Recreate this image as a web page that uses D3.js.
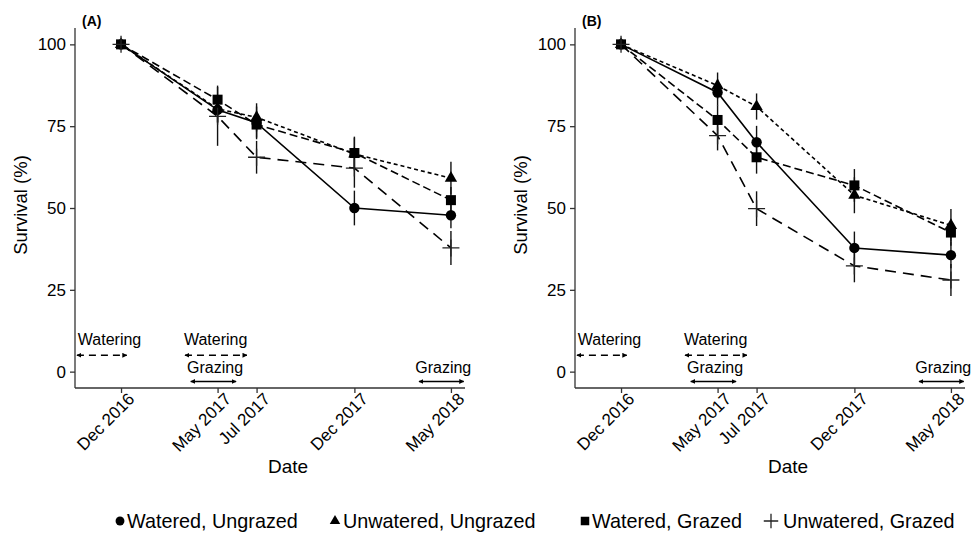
<!DOCTYPE html>
<html>
<head>
<meta charset="utf-8">
<script src="https://cdn.jsdelivr.net/npm/d3@7"></script>
<style>
  html, body { margin: 0; padding: 0; background: #fff; }
  svg { display: block; font-family: "Liberation Sans", Arial, Helvetica, sans-serif; }
</style>
</head>
<body>
<svg id="chart" width="972" height="533"></svg>
<script>
// ---------------- DATA ----------------
const dates = ["2016-12-01", "2017-05-01", "2017-07-01", "2017-12-01", "2018-05-01"];
const tickLabels = ["Dec 2016", "May 2017", "Jul 2017", "Dec 2017", "May 2018"];
const seriesNames = ["Watered, Ungrazed", "Unwatered, Ungrazed", "Watered, Grazed", "Unwatered, Grazed"];
const yTicks = [0, 25, 50, 75, 100];

// Panel A values (survival %) and standard errors
const a_wateredUngrazed   = [100, 80.0, 76.0, 50.0, 47.8];
const a_unwateredUngrazed = [100, 80.3, 77.7, 66.5, 59.1];
const a_wateredGrazed     = [100, 83.1, 75.5, 66.8, 52.4];
const a_unwateredGrazed   = [100, 78.0, 65.5, 62.2, 37.8];
const a_se_wu = [1, 4, 5, 5.3, 4];
const a_se_uu = [1, 4, 4.3, 5, 5];
const a_se_wg = [1, 4.3, 4, 5, 4];
const a_se_ug = [1.5, 9, 5, 6, 5.2];

// Panel B values (survival %) and standard errors
const b_wateredUngrazed   = [100, 85.3, 70.1, 37.8, 35.6];
const b_unwateredUngrazed = [100, 87.4, 81.0, 53.9, 44.7];
const b_wateredGrazed     = [100, 76.9, 65.5, 56.9, 42.5];
const b_unwateredGrazed   = [100, 72.1, 49.8, 32.3, 28.0];
const b_se_wu = [1, 4, 5, 5, 4];
const b_se_uu = [1, 4, 4, 5.5, 5];
const b_se_wg = [1, 4.5, 5, 5, 4];
const b_se_ug = [1.5, 4.5, 5.3, 5, 4.9];

// Treatment-period annotations
const annLabels = ["Watering", "Watering", "Grazing", "Grazing"];
const annStart  = ["2016-09-23", "2017-03-11", "2017-03-20", "2018-03-12"];
const annEnd    = ["2016-12-10", "2017-06-16", "2017-05-30", "2018-05-21"];
const annText   = ["2016-11-13", "2017-04-28", "2017-04-27", "2018-04-19"];
const annArrowY = [5, 5, -3, -3];
const annTextY  = [10, 10, 1.2, 1.2];
const annDashed = [true, true, false, false];

// ---------------- LAYOUT ----------------
const parse = d3.timeParse("%Y-%m-%d");
const svg = d3.select("#chart");
const panelOffsets = [0, 500];
const panelLabels = ["(A)", "(B)"];
const panelData = [
  { vals: [a_wateredUngrazed, a_unwateredUngrazed, a_wateredGrazed, a_unwateredGrazed],
    ses:  [a_se_wu, a_se_uu, a_se_wg, a_se_ug] },
  { vals: [b_wateredUngrazed, b_unwateredUngrazed, b_wateredGrazed, b_unwateredGrazed],
    ses:  [b_se_wu, b_se_uu, b_se_wg, b_se_ug] }
];
const dashes = [null, "4,3", "8,4", "11,7"];
const shapes = ["circle", "triangle", "square", "cross"];

// arrow markers
const defs = svg.append("defs");
defs.append("marker").attr("id", "arrowEnd").attr("viewBox", "0 0 10 10")
  .attr("refX", 9).attr("refY", 5).attr("markerWidth", 5).attr("markerHeight", 5)
  .attr("markerUnits", "userSpaceOnUse").attr("orient", "auto")
  .append("path").attr("d", "M0,0L10,5L0,10Z").attr("fill", "#000");
defs.append("marker").attr("id", "arrowStart").attr("viewBox", "0 0 10 10")
  .attr("refX", 1).attr("refY", 5).attr("markerWidth", 5).attr("markerHeight", 5)
  .attr("markerUnits", "userSpaceOnUse").attr("orient", "auto")
  .append("path").attr("d", "M10,0L0,5L10,10Z").attr("fill", "#000");

function drawShape(g, shape, x, y, scale) {
  scale = scale || 1;
  if (shape === "circle") {
    g.append("circle").attr("cx", x).attr("cy", y).attr("r", 5.2 * scale).attr("fill", "#000");
  } else if (shape === "triangle") {
    g.append("path").attr("transform", `translate(${x},${y})`)
      .attr("d", d3.symbol().type(d3.symbolTriangle).size(66 * scale * scale)()).attr("fill", "#000");
  } else if (shape === "square") {
    const s = 10 * scale;
    g.append("rect").attr("x", x - s / 2).attr("y", y - s / 2).attr("width", s).attr("height", s).attr("fill", "#000");
  } else {
    const h = 8.5 * scale;
    g.append("path").attr("d", `M${x - h},${y}H${x + h}M${x},${y - h}V${y + h}`)
      .attr("stroke", "#222").attr("stroke-width", 1.3).attr("fill", "none");
  }
}

panelOffsets.forEach((off, pi) => {
  const g = svg.append("g").attr("transform", `translate(${off},0)`);
  const x = d3.scaleTime().domain([parse("2016-09-20"), parse("2018-05-23")]).range([75, 465]);
  const y = d3.scaleLinear().domain([-5, 105]).range([388, 28]);

  // axes
  const yAxis = d3.axisLeft(y).tickValues(yTicks).tickSize(5).tickPadding(4);
  const ya = g.append("g").attr("transform", "translate(75,0)").call(yAxis);
  ya.select(".domain").attr("stroke", "#333").attr("stroke-width", 1.3).attr("d", "M0,28V388");
  ya.selectAll(".tick line").attr("stroke", "#333").attr("stroke-width", 1.3);
  ya.selectAll(".tick text").attr("font-size", 17).attr("fill", "#000")
    .attr("font-family", '"Liberation Sans", Arial, sans-serif');

  const xAxis = d3.axisBottom(x).tickValues(dates.map(parse))
    .tickFormat((d, i) => tickLabels[i]).tickSize(5).tickPadding(4);
  const xa = g.append("g").attr("transform", "translate(0,388)").call(xAxis);
  xa.select(".domain").attr("stroke", "#333").attr("stroke-width", 1.3).attr("d", "M75,0H465");
  xa.selectAll(".tick line").attr("stroke", "#333").attr("stroke-width", 1.3);
  xa.selectAll(".tick text").attr("font-size", 17).attr("fill", "#000")
    .attr("font-family", '"Liberation Sans", Arial, sans-serif')
    .attr("text-anchor", "end").attr("dy", null).attr("y", 0)
    .attr("transform", "translate(14,12) rotate(-45)");

  // axis titles
  g.append("text").attr("x", 288).attr("y", 473).attr("text-anchor", "middle")
    .attr("font-size", 19).text("Date");
  g.append("text").attr("transform", "translate(27,205) rotate(-90)").attr("text-anchor", "middle")
    .attr("font-size", 18.5).text("Survival (%)");
  g.append("text").attr("x", 82).attr("y", 26).attr("font-size", 14).attr("font-weight", "bold")
    .text(panelLabels[pi]);

  // annotations
  annLabels.forEach((lab, i) => {
    g.append("line")
      .attr("x1", x(parse(annStart[i]))).attr("x2", x(parse(annEnd[i])))
      .attr("y1", y(annArrowY[i])).attr("y2", y(annArrowY[i]))
      .attr("stroke", "#000").attr("stroke-width", 1.6)
      .attr("stroke-dasharray", annDashed[i] ? "7,5" : null)
      .attr("marker-start", "url(#arrowStart)").attr("marker-end", "url(#arrowEnd)");
    g.append("text").attr("x", x(parse(annText[i]))).attr("y", y(annTextY[i]))
      .attr("dy", "0.35em").attr("text-anchor", "middle").attr("font-size", 16).text(lab);
  });

  const pd = panelData[pi];
  // lines
  pd.vals.forEach((vals, si) => {
    const line = d3.line().x((d, i) => x(parse(dates[i]))).y(d => y(d));
    g.append("path").datum(vals).attr("d", line).attr("fill", "none")
      .attr("stroke", "#000").attr("stroke-width", 1.6)
      .attr("stroke-dasharray", dashes[si]);
  });
  // error bars
  pd.vals.forEach((vals, si) => {
    vals.forEach((v, i) => {
      g.append("line").attr("x1", x(parse(dates[i]))).attr("x2", x(parse(dates[i])))
        .attr("y1", y(v - pd.ses[si][i])).attr("y2", y(v + pd.ses[si][i]))
        .attr("stroke", "#111").attr("stroke-width", 1.4);
    });
  });
  // points
  pd.vals.forEach((vals, si) => {
    vals.forEach((v, i) => drawShape(g, shapes[si], x(parse(dates[i])), y(v)));
  });
});

// legend
const legendMarkX = [120, 335, 585, 771];
const legendTextX = [127, 343, 592, 783];
const legendY = 521;
seriesNames.forEach((name, i) => {
  drawShape(svg, shapes[i], legendMarkX[i], legendY, 0.85);
  svg.append("text").attr("x", legendTextX[i]).attr("y", legendY).attr("dy", "0.36em")
    .attr("font-size", 19.8).text(name);
});
</script>
</body>
</html>
